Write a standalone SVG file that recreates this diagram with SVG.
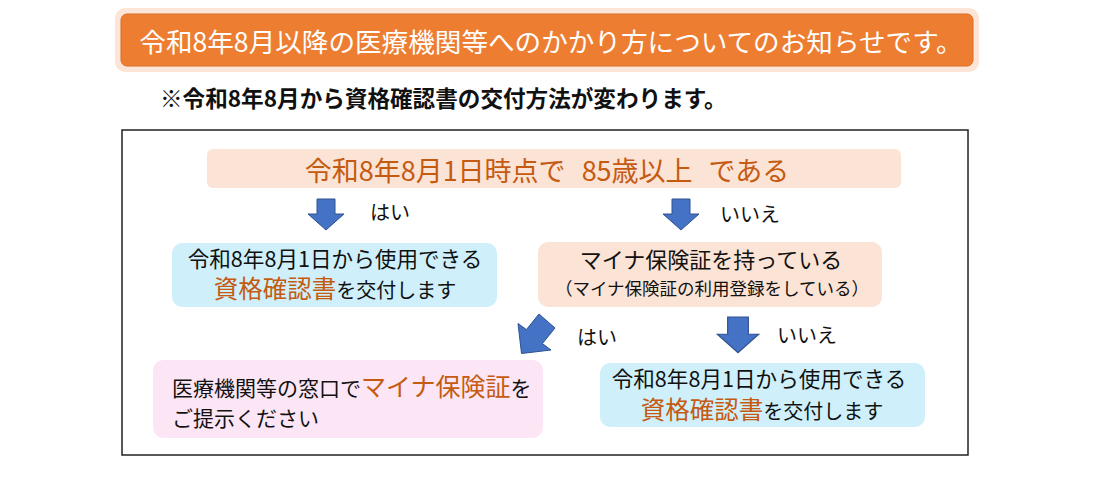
<svg xmlns="http://www.w3.org/2000/svg" width="1100" height="500" viewBox="0 0 1100 500">
<defs>
<style>
text{font-family:"Noto Sans CJK JP","Noto Sans",sans-serif;}
.t{fill:#111;}
.o{fill:#C55A11;}
.arr{fill:#4472C4;stroke:#2F528F;stroke-width:1;}
.lbl{font-size:20px;fill:#111;}
</style>
<path id="down" d="M-9,0 H9 V15 H18 L0,31 L-18,15 H-9 Z"/>
</defs>
<rect width="1100" height="500" fill="#fff"/>
<g id="title">
<rect x="115" y="8" width="864" height="64" rx="10" fill="#FCE4D6"/>
<rect x="121" y="14" width="852" height="52" rx="6" fill="#ED7D31" stroke="#D96D22"/>
<text x="551" y="52" font-size="26.6" fill="#fff" text-anchor="middle">令和8年8月以降の医療機関等へのかかり方についてのお知らせです。</text>
</g>
<g id="subtitle">
<text x="160" y="107" font-size="22.6" font-weight="bold" class="t">※令和8年8月から資格確認書の交付方法が変わります。</text>
</g>
<rect id="frame" x="122" y="130" width="846" height="325" fill="none" stroke="#222" stroke-width="1.5"/>
<g id="q1">
<rect x="207" y="149" width="694" height="39" rx="6" fill="#FBE3D5"/>
<text x="547" y="181" font-size="27" class="o" text-anchor="middle">令和8年8月1日時点で<tspan dx="16">85歳以上</tspan><tspan dx="16">である</tspan></text>
</g>
<g id="yes1">
<rect x="172" y="243" width="325" height="64" rx="10" fill="#CFF0FA"/>
<text x="335" y="267" font-size="21.6" class="t" text-anchor="middle">令和8年8月1日から使用できる</text>
<text x="335" y="298" font-size="20" class="t" text-anchor="middle"><tspan class="o" font-size="24.5">資格確認書</tspan>を交付します</text>
</g>
<g id="q2">
<rect x="538" y="242" width="344" height="65" rx="10" fill="#FBE3D5"/>
<text x="711" y="268" font-size="22" class="t" text-anchor="middle">マイナ保険証を持っている</text>
<text x="712" y="295" font-size="17.5" class="t" text-anchor="middle">（マイナ保険証の利用登録をしている）</text>
</g>
<g id="yes2">
<rect x="153" y="360" width="390" height="78" rx="10" fill="#FCE6F5"/>
<text x="172" y="396" font-size="21" class="t">医療機関等の窓口で<tspan class="o" font-size="25">マイナ保険証</tspan>を</text>
<text x="172" y="426" font-size="21" class="t">ご提示ください</text>
</g>
<g id="no2">
<rect x="600" y="363" width="325" height="64" rx="10" fill="#CFF0FA"/>
<text x="759" y="387" font-size="21.6" class="t" text-anchor="middle">令和8年8月1日から使用できる</text>
<text x="762" y="419" font-size="20" class="t" text-anchor="middle"><tspan class="o" font-size="24.5">資格確認書</tspan>を交付します</text>
</g>
<g id="connectors">
<use href="#down" class="arr" transform="translate(326,199)"/>
<text x="370" y="220" class="lbl">はい</text>
<use href="#down" class="arr" transform="translate(681,199)"/>
<text x="720" y="222" class="lbl">いいえ</text>
<path class="arr" d="M539,314 L555,328 L542.4,343.6 L551,350 L521.5,353.5 L518,323.5 L526.4,329.6 Z"/>
<text x="577" y="345" class="lbl" font-size="21">はい</text>
<use href="#down" class="arr" transform="translate(738,317) scale(1.15)"/>
<text x="777" y="343" class="lbl" font-size="21">いいえ</text>
</g>
</svg>
